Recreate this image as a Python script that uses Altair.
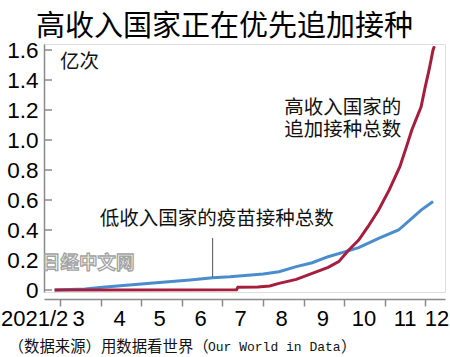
import altair as alt
import pandas as pd

# ---- data ----
low_dates = ["2021-02-25", "2021-03-20", "2021-04-02", "2021-05-08", "2021-06-07", "2021-06-24",
             "2021-07-07", "2021-08-01", "2021-08-13", "2021-08-26", "2021-09-07", "2021-09-19",
             "2021-10-02", "2021-10-12", "2021-10-27", "2021-11-11", "2021-11-21", "2021-11-28",
             "2021-12-07"]
low_values = [0.0, 0.006, 0.018, 0.045, 0.067, 0.082,
              0.088, 0.107, 0.122, 0.156, 0.182, 0.222,
              0.256, 0.282, 0.344, 0.40, 0.478, 0.533,
              0.59]

high_dates = ["2021-02-25", "2021-07-12", "2021-07-13", "2021-07-28", "2021-08-06", "2021-08-13",
              "2021-08-26", "2021-09-07", "2021-09-19", "2021-09-27", "2021-10-04", "2021-10-12",
              "2021-10-19", "2021-10-27", "2021-11-04", "2021-11-12", "2021-11-17", "2021-11-21",
              "2021-11-28", "2021-12-01", "2021-12-04", "2021-12-07", "2021-12-08"]
high_values = [0.0, 0.002, 0.018, 0.020, 0.027, 0.044,
               0.071, 0.111, 0.151, 0.189, 0.262, 0.333,
               0.422, 0.533, 0.667, 0.822, 0.956, 1.067,
               1.222, 1.35, 1.467, 1.60, 1.625]

series_names = ["低收入国家的疫苗接种总数", "高收入国家的追加接种总数"]
series_colors = ["#4b8dcc", "#a51e3e"]

month_tick_dates = ["2021-03-01", "2021-04-01", "2021-05-01", "2021-06-01", "2021-07-01",
                    "2021-08-01", "2021-09-01", "2021-10-01", "2021-11-01", "2021-12-01"]
month_label_dates = ["2021-02-10", "2021-03-15", "2021-04-15", "2021-05-15", "2021-06-15",
                     "2021-07-15", "2021-08-15", "2021-09-15", "2021-10-16", "2021-11-16",
                     "2021-12-10"]
month_labels = ["2021/2", "3", "4", "5", "6", "7", "8", "9", "10", "11", "12"]

y_tick_values = [0, 0.2, 0.4, 0.6, 0.8, 1.0, 1.2, 1.4, 1.6]

title_text = "高收入国家正在优先追加接种"
unit_text = "亿次"
source_parts = ["（数据来源）用数据看世界（", "Our World in Data", "）"]
watermark_text = "日经中文网"

note_texts = ["低收入国家的疫苗接种总数", "高收入国家的", "追加接种总数", unit_text]
note_dates = ["2021-03-31", "2021-08-17", "2021-08-17", "2021-03-01"]
note_values = [0.473, 1.216, 1.07, 1.52]

pointer_date = ["2021-06-24"]
pointer_top = [0.347]
pointer_bottom = [0.087]

# ---- tables ----
low_df = pd.DataFrame({"date": low_dates, "value": low_values, "series": series_names[0]})
high_df = pd.DataFrame({"date": high_dates, "value": high_values, "series": series_names[1]})
ticks_df = pd.DataFrame({"v": y_tick_values})
mlabels_df = pd.DataFrame({"date": month_label_dates, "label": month_labels})
notes_df = pd.DataFrame({"date": note_dates, "value": note_values, "text": note_texts})
pointer_df = pd.DataFrame({"date": pointer_date, "top": pointer_top, "bottom": pointer_bottom})

W, H = 401, 248
NUM_FONT = "Liberation Sans Narrow, Liberation Sans, Arial"
CJK_FONT = "Noto Sans CJK SC"
AXIS_GRAY = "#8a8a8a"

x_scale = alt.Scale(domain=[alt.DateTime(year=2021, month=2, date=17),
                            alt.DateTime(year=2021, month=12, date=16)])
y_scale = alt.Scale(domain=[-0.0133, 1.64], nice=False, zero=False)

x_axis = alt.Axis(
    values=[alt.DateTime(year=2021, month=int(d[5:7]), date=1) for d in month_tick_dates],
    labels=False, title=None, grid=False, offset=7, tickSize=7,
    domainColor=AXIS_GRAY, tickColor=AXIS_GRAY, domainWidth=1.5, tickWidth=1.5,
)
y_axis = alt.Axis(
    values=y_tick_values, title=None, grid=False, ticks=False, labelOverlap=False,
    labelExpr="datum.value == 0 ? '0' : format(datum.value, '.1f')",
    labelFont=NUM_FONT, labelFontSize=22.5, labelColor="#000", labelPadding=6,
    domainColor=AXIS_GRAY, domainWidth=1.5,
)

low_line = alt.Chart(low_df).mark_line(strokeWidth=3, color=series_colors[0]).encode(
    x=alt.X("date:T", scale=x_scale, axis=x_axis),
    y=alt.Y("value:Q", scale=y_scale, axis=y_axis),
)
high_line = alt.Chart(high_df).mark_line(strokeWidth=3, color=series_colors[1]).encode(
    x=alt.X("date:T", scale=x_scale, axis=x_axis),
    y=alt.Y("value:Q", scale=y_scale, axis=y_axis),
)

y_ticks = alt.Chart(ticks_df).mark_rule(color=AXIS_GRAY, strokeWidth=1.5).encode(
    y=alt.Y("v:Q", scale=y_scale, axis=y_axis),
    x=alt.value(0), x2=alt.value(8),
)

month_text = alt.Chart(mlabels_df).mark_text(
    font=NUM_FONT, fontSize=22, color="#000", align="center", baseline="middle"
).encode(
    x=alt.X("date:T", scale=x_scale, axis=x_axis),
    y=alt.value(H + 27),
    text="label:N",
)

notes = alt.Chart(notes_df).mark_text(
    font=CJK_FONT, fontSize=19.5, color="#111", align="left", baseline="middle"
).encode(
    x=alt.X("date:T", scale=x_scale, axis=x_axis),
    y=alt.Y("value:Q", scale=y_scale, axis=y_axis),
    text="text:N",
)

pointer = alt.Chart(pointer_df).mark_rule(color="#555", strokeWidth=1).encode(
    x=alt.X("date:T", scale=x_scale, axis=x_axis),
    y=alt.Y("top:Q", scale=y_scale, axis=y_axis),
    y2="bottom:Q",
)

watermark = alt.Chart(pd.DataFrame({"t": [watermark_text]})).mark_text(
    font=CJK_FONT, fontSize=18.5, fontWeight="bold", fill="#ffffff", stroke="#a2a2a2",
    strokeWidth=1.3, align="left", baseline="middle"
).encode(x=alt.value(-2), y=alt.value(219), text="t:N")

source1 = alt.Chart(pd.DataFrame({"t": [source_parts[0]]})).mark_text(
    font=CJK_FONT, fontSize=15.4, color="#111", align="left", baseline="middle"
).encode(x=alt.value(-35.4), y=alt.value(303), text="t:N")

source2 = alt.Chart(pd.DataFrame({"t": [source_parts[1]]})).mark_text(
    font="Liberation Mono, DejaVu Sans Mono", fontSize=13, color="#111", align="left", baseline="middle"
).encode(x=alt.value(164), y=alt.value(303), text="t:N")

source3 = alt.Chart(pd.DataFrame({"t": [source_parts[2]]})).mark_text(
    font=CJK_FONT, fontSize=15.4, color="#111", align="left", baseline="middle"
).encode(x=alt.value(297), y=alt.value(303), text="t:N")

chart = alt.layer(
    low_line, high_line, y_ticks, month_text, pointer, notes, watermark, source1, source2, source3
).properties(
    width=W, height=H,
    title=alt.TitleParams(title_text, font=CJK_FONT, fontSize=29, fontWeight="normal",
                          color="#000", anchor="middle", dx=-20, dy=3, offset=0),
    autosize=alt.AutoSizeParams(type="none"),
    padding={"left": 44, "top": 44, "right": 5, "bottom": 65},
).configure_view(stroke=None).configure(background="#ffffff").configure_axis(labelOverlap=False)

chart.save("out.html", embed_options={"renderer": "svg", "actions": False})
